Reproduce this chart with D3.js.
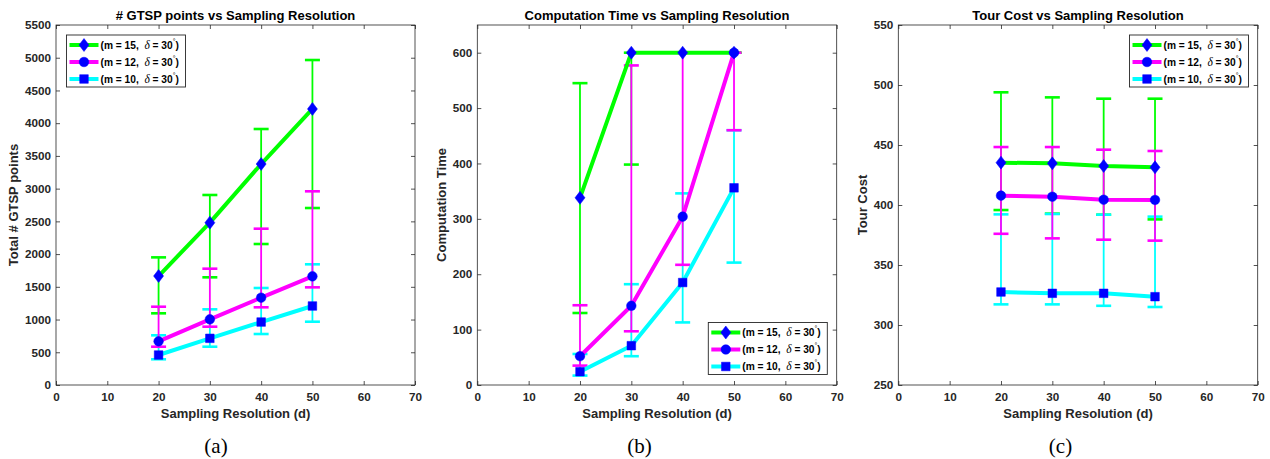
<!DOCTYPE html>
<html>
<head>
<meta charset="utf-8">
<script src="https://cdn.jsdelivr.net/npm/d3@7"></script>
<style>
  html, body { margin: 0; padding: 0; background: #fff; }
  svg { display: block; }
</style>
</head>
<body>
<svg id="chart" width="1270" height="459" font-family="Liberation Sans, Arial, Helvetica, sans-serif"></svg>
<script>
// ---------- data ----------
const xValues = [20, 30, 40, 50];
const seriesNames = ["m = 15", "m = 12", "m = 10"];
const xTicks = [0, 10, 20, 30, 40, 50, 60, 70];

// (a) Total # GTSP points
const gtspMean15 = [1665, 2480, 3376, 4217];
const gtspLow15  = [1095, 1645, 2154, 2704];
const gtspHigh15 = [1950, 2903, 3911, 4965];
const gtspMean12 = [667, 1003, 1334, 1660];
const gtspLow12  = [585, 891, 1187, 1492];
const gtspHigh12 = [1196, 1777, 2388, 2959];
const gtspMean10 = [458, 713, 962, 1207];
const gtspLow10  = [393, 585, 779, 967];
const gtspHigh10 = [759, 1156, 1482, 1844];
const gtspTicks = [0, 500, 1000, 1500, 2000, 2500, 3000, 3500, 4000, 4500, 5000, 5500];

// (b) Computation time
const timeMean15 = [338, 600, 600, 600];
const timeLow15  = [130, 398, 600, 600];
const timeHigh15 = [545, 600, 600, 600];
const timeMean12 = [52, 143, 304, 600];
const timeLow12  = [35, 97, 217, 460];
const timeHigh12 = [144, 577, 600, 600];
const timeMean10 = [24, 71, 185, 356];
const timeLow10  = [17, 52, 113, 221];
const timeHigh10 = [56, 182, 346, 460];
const timeTicks = [0, 100, 200, 300, 400, 500, 600];

// (c) Tour cost
const costMean15 = [435.3, 434.7, 432.5, 431.4];
const costLow15  = [395.8, 392.8, 391.9, 388.0];
const costHigh15 = [493.9, 489.7, 488.6, 488.6];
const costMean12 = [407.8, 406.9, 404.4, 404.2];
const costLow12  = [376.0, 372.2, 371.1, 370.3];
const costHigh12 = [448.3, 448.3, 446.1, 445.0];
const costMean10 = [327.5, 326.4, 326.4, 323.6];
const costLow10  = [317.2, 317.2, 316.0, 315.0];
const costHigh10 = [392.2, 392.5, 391.9, 390.3];
const costTicks = [250, 300, 350, 400, 450, 500, 550];

// ---------- styles ----------
const seriesColors = ["#00ff00", "#ff00ff", "#00ffff"];
const markerShapes = ["diamond", "circle", "square"];
const markerColor = "#0000ff";
const axisColor = "#262626";
const sansFont = "Liberation Sans, Arial, Helvetica, sans-serif";
const serifFont = "Liberation Serif, Times New Roman, serif";

const svg = d3.select("#chart");

function markerPath(shape) {
  if (shape === "diamond") return "M0,-6.5L5,0L0,6.5L-5,0Z";
  if (shape === "square") return "M-4.3,-4.3H4.3V4.3H-4.3Z";
  return d3.symbol().type(d3.symbolCircle).size(72)();
}

function legendLabel(sel, name) {
  const t = sel.append("text")
    .attr("font-size", 10.2).attr("font-weight", "bold").attr("fill", "#000")
    .attr("dominant-baseline", "middle");
  t.append("tspan").attr("xml:space", "preserve").text("(" + name + ",  ");
  t.append("tspan").style("font-family", serifFont).style("font-style", "italic")
    .style("font-weight", "normal").attr("font-size", 11.5).text("δ");
  t.append("tspan").text(" = 30");
  t.append("tspan").attr("font-size", 7).attr("dy", -4).style("font-weight", "normal").text("°");
  t.append("tspan").attr("dy", 4).text(")");
  return t;
}

function drawPanel(p) {
  const g = svg.append("g");
  const x = d3.scaleLinear().domain([0, 70]).range([p.left, p.right]);
  const y = d3.scaleLinear().domain(p.yDomain).range([p.bottom, p.top]);

  const tickLen = 4;
  const bottomAxis = d3.axisBottom(x).tickValues(xTicks).tickSize(-tickLen).tickPadding(8).tickFormat(d3.format("d"));
  const topAxis = d3.axisTop(x).tickValues(xTicks).tickSize(-tickLen).tickFormat("");
  const leftAxis = d3.axisLeft(y).tickValues(p.yTicks).tickSize(-tickLen).tickPadding(5).tickFormat(d3.format("d"));
  const rightAxis = d3.axisRight(y).tickValues(p.yTicks).tickSize(-tickLen).tickFormat("");

  function styleAxis(a) {
    a.attr("font-family", null).attr("font-size", null);
    a.select(".domain").remove();
    a.selectAll(".tick line").attr("stroke", axisColor).attr("stroke-width", 0.8);
    a.selectAll(".tick text").attr("fill", axisColor).attr("font-size", 11.7)
      .attr("font-weight", "bold").attr("font-family", sansFont);
  }
  styleAxis(g.append("g").attr("transform", `translate(0,${p.bottom})`).call(bottomAxis));
  styleAxis(g.append("g").attr("transform", `translate(0,${p.top})`).call(topAxis));
  styleAxis(g.append("g").attr("transform", `translate(${p.left},0)`).call(leftAxis));
  styleAxis(g.append("g").attr("transform", `translate(${p.right},0)`).call(rightAxis));

  g.append("rect").attr("x", p.left).attr("y", p.top)
    .attr("width", p.right - p.left).attr("height", p.bottom - p.top)
    .attr("fill", "none").attr("stroke", axisColor).attr("stroke-width", 0.8);

  // error bars
  const capHalf = 7.5;
  [0, 2, 1].forEach(si => {
    const s = p.series[si];
    const eg = g.append("g").attr("stroke", seriesColors[si]);
    xValues.forEach((xv, i) => {
      const cx = x(xv);
      eg.append("line").attr("x1", cx).attr("x2", cx)
        .attr("y1", y(s.low[i])).attr("y2", y(s.high[i])).attr("stroke-width", 1.8);
      [s.low[i], s.high[i]].forEach(v => {
        eg.append("line").attr("x1", cx - capHalf).attr("x2", cx + capHalf)
          .attr("y1", y(v)).attr("y2", y(v)).attr("stroke-width", 2.6);
      });
    });
  });

  // lines
  const line = d3.line().x((d, i) => x(xValues[i])).y(d => y(d));
  [1, 2, 0].forEach(si => {
    const s = p.series[si];
    g.append("path").datum(s.mean).attr("d", line)
      .attr("fill", "none").attr("stroke", seriesColors[si])
      .attr("stroke-width", 4).attr("stroke-linejoin", "round");
  });
  // markers
  [2, 1, 0].forEach(si => {
    const s = p.series[si];
    s.mean.forEach((v, i) => {
      g.append("path").attr("d", markerPath(markerShapes[si]))
        .attr("transform", `translate(${x(xValues[i])},${y(v)})`)
        .attr("fill", markerColor).attr("stroke", markerColor).attr("stroke-width", 0.5);
    });
  });

  // title, labels
  const cxm = (p.left + p.right) / 2;
  g.append("text").attr("x", cxm).attr("y", 20).attr("text-anchor", "middle")
    .attr("font-size", 13).attr("font-weight", "bold").attr("fill", "#000").text(p.title);
  g.append("text").attr("x", cxm).attr("y", 418).attr("text-anchor", "middle")
    .attr("font-size", 13).attr("font-weight", "bold").attr("fill", axisColor).text("Sampling Resolution (d)");
  g.append("text").attr("transform", `translate(${p.left - p.ylabOff},${(p.top + p.bottom) / 2}) rotate(-90)`)
    .attr("text-anchor", "middle").attr("dominant-baseline", "middle")
    .attr("font-size", 13).attr("font-weight", "bold").attr("fill", axisColor).text(p.ylabel);
  g.append("text").attr("x", p.subX).attr("y", 453).attr("text-anchor", "middle")
    .style("font-family", serifFont)
    .attr("font-size", 21).attr("fill", "#000").text(p.sub);

  // legend
  const lg = g.append("g").attr("transform", `translate(${p.legX},${p.legY})`);
  lg.append("rect").attr("width", 119).attr("height", 52)
    .attr("fill", "#fff").attr("stroke", "#262626").attr("stroke-width", 0.9);
  seriesNames.forEach((name, si) => {
    const ry = 10 + si * 17;
    lg.append("line").attr("x1", 3).attr("x2", 32).attr("y1", ry).attr("y2", ry)
      .attr("stroke", seriesColors[si]).attr("stroke-width", 4);
    lg.append("path").attr("d", markerPath(markerShapes[si]))
      .attr("transform", `translate(17.5,${ry})`).attr("fill", markerColor)
      .attr("stroke", markerColor).attr("stroke-width", 0.5);
    legendLabel(lg, name).attr("x", 34).attr("y", ry + 0.5);
  });
}

drawPanel({
  left: 56, right: 415, top: 25, bottom: 385,
  yDomain: [0, 5500], yTicks: gtspTicks, ylabOff: 41,
  title: "# GTSP points vs Sampling Resolution", ylabel: "Total # GTSP points",
  sub: "(a)", subX: 216, legX: 66.5, legY: 35,
  series: [
    { mean: gtspMean15, low: gtspLow15, high: gtspHigh15 },
    { mean: gtspMean12, low: gtspLow12, high: gtspHigh12 },
    { mean: gtspMean10, low: gtspLow10, high: gtspHigh10 }
  ]
});
drawPanel({
  left: 477.3, right: 836.7, top: 25, bottom: 385,
  yDomain: [0, 650], yTicks: timeTicks, ylabOff: 35,
  title: "Computation Time vs Sampling Resolution", ylabel: "Computation Time",
  sub: "(b)", subX: 639.5, legX: 708.3, legY: 322.5,
  series: [
    { mean: timeMean15, low: timeLow15, high: timeHigh15 },
    { mean: timeMean12, low: timeLow12, high: timeHigh12 },
    { mean: timeMean10, low: timeLow10, high: timeHigh10 }
  ]
});
drawPanel({
  left: 898.3, right: 1257.7, top: 25, bottom: 385,
  yDomain: [250, 550], yTicks: costTicks, ylabOff: 35,
  title: "Tour Cost vs Sampling Resolution", ylabel: "Tour Cost",
  sub: "(c)", subX: 1060.5, legX: 1129.5, legY: 35,
  series: [
    { mean: costMean15, low: costLow15, high: costHigh15 },
    { mean: costMean12, low: costLow12, high: costHigh12 },
    { mean: costMean10, low: costLow10, high: costHigh10 }
  ]
});
</script>
</body>
</html>
